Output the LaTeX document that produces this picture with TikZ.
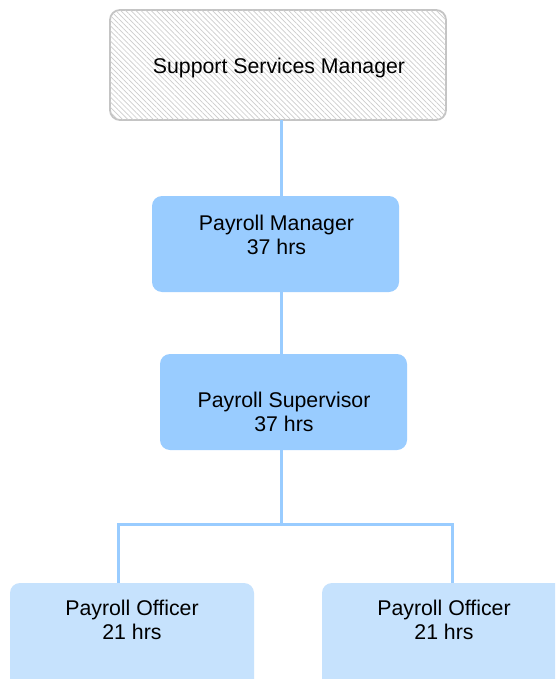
\documentclass[tikz,border=0pt]{standalone}
\usepackage{fontspec}
\setmainfont{Liberation Sans}
\usetikzlibrary{patterns.meta}
\definecolor{connblue}{HTML}{99CCFF}
\definecolor{midblue}{HTML}{99CCFF}
\definecolor{lowblue}{HTML}{C6E2FD}
\definecolor{topborder}{HTML}{C4C4C4}
\definecolor{hatchgray}{HTML}{CDCDCD}
\begin{document}
\begin{tikzpicture}[x=1pt,y=-1pt,
  boxbase/.style={rectangle, rounded corners=10pt, inner sep=0pt, outer sep=0pt, anchor=north west},
  topbox/.style={boxbase, draw=topborder, line width=1.8pt, fill=white,
     postaction={pattern={Lines[angle=-45, distance=3.6pt, line width=0.7pt]}, pattern color=hatchgray}},
  midbox/.style={boxbase, fill=midblue},
  lowbox/.style={boxbase, fill=lowblue},
  lbl/.style={align=center, inner sep=0pt, font=\fontsize{21.3}{24.5}\selectfont},
  conn/.style={draw=connblue, line width=3pt}]
\clip (0,0) rectangle (555,679);
\fill[white] (0,0) rectangle (555,679);
% reference coordinates
\coordinate (spine) at (281,0);
\coordinate (bar) at (281,524);
\coordinate (xl) at (118,0);
\coordinate (xr) at (452,0);
% boxes
\node[topbox, minimum width=336pt, minimum height=110pt] (ssm) at (110,10) {};
\node[midbox, minimum width=247pt, minimum height=96pt] (pm) at (152,196) {};
\node[midbox, minimum width=247pt, minimum height=96pt] (ps) at (160,354) {};
\node[lowbox, minimum width=244pt, minimum height=110pt] (lo) at (10,583) {};
\node[lowbox, minimum width=244pt, minimum height=110pt] (ro) at (322,583) {};
% connectors
\draw[conn] (ssm.south -| spine) -- (pm.north -| spine);
\draw[conn] (pm.south -| spine) -- (ps.north -| spine);
\draw[conn] (ps.south -| spine) -- (bar);
\draw[conn] (lo.north -| xl) -- (xl |- bar) -- (xr |- bar) -- (ro.north -| xr);
% texts
\node[lbl] (ssmt) at (279,68) {Support Services Manager};
\node[lbl] (pmt) at (276.5,235) {Payroll Manager\\37 hrs};
\node[lbl] (pst) at (284,412) {Payroll Supervisor\\37 hrs};
\node[lbl] (lot) at (132,620) {Payroll Officer\\21 hrs};
\node[lbl] (rot) at (444,620) {Payroll Officer\\21 hrs};
\end{tikzpicture}
\end{document}
